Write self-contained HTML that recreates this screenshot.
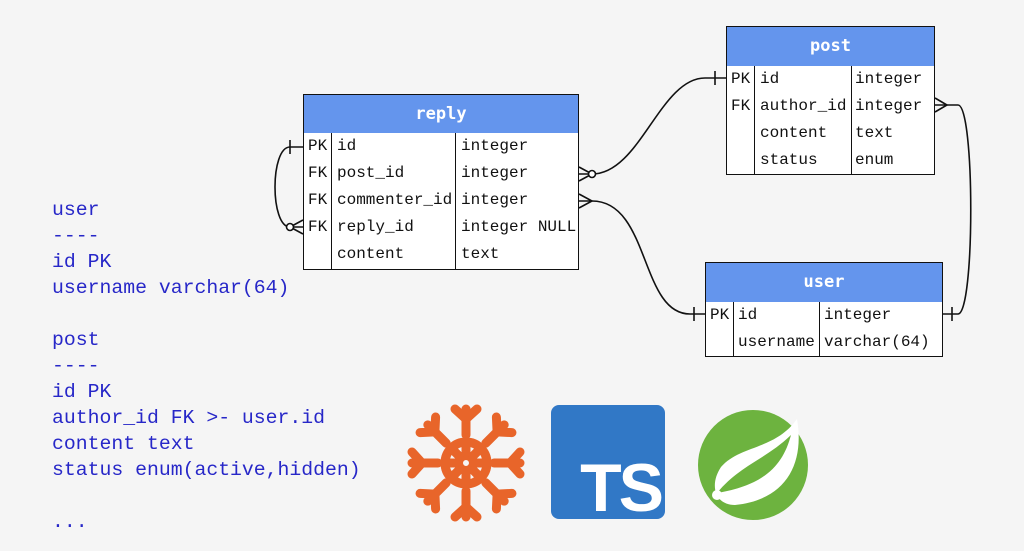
<!DOCTYPE html>
<html><head><meta charset="utf-8"><style>
body{margin:0;width:1024px;height:551px;background:#f5f5f5;position:relative;overflow:hidden;font-family:"Liberation Mono",monospace}
.t{position:absolute;border:1.5px solid #111;background:#fff;box-sizing:border-box}
.h{background:#6495ed;color:#fff;font-family:"DejaVu Sans Mono",monospace;font-weight:bold;font-size:17px;text-align:center}
.r{position:relative;height:27px;font-size:16px;line-height:27px;color:#111}
.r span{position:absolute;top:0}
.v{position:absolute;top:0;bottom:0;border-left:1.5px solid #111}
.code{position:absolute;left:52px;top:197px;color:#2727c8;font-size:19.8px;line-height:26px;white-space:pre}
</style></head><body>
<div class="code">user
----
id PK
username varchar(64)

post
----
id PK
author_id FK &gt;- user.id
content text
status enum(active,hidden)

...</div>

<!-- reply -->
<div class="t" style="left:303px;top:94px;width:276px;height:176px">
<div class="h" style="height:38px;line-height:38px">reply</div>
<div class="v" style="left:27px;top:38px"></div><div class="v" style="left:151px;top:38px"></div>
<div class="r"><span style="left:4px">PK</span><span style="left:33px">id</span><span style="left:157px">integer</span></div>
<div class="r"><span style="left:4px">FK</span><span style="left:33px">post_id</span><span style="left:157px">integer</span></div>
<div class="r"><span style="left:4px">FK</span><span style="left:33px">commenter_id</span><span style="left:157px">integer</span></div>
<div class="r"><span style="left:4px">FK</span><span style="left:33px">reply_id</span><span style="left:157px">integer NULL</span></div>
<div class="r"><span style="left:33px">content</span><span style="left:157px">text</span></div>
</div>

<!-- post -->
<div class="t" style="left:726px;top:26px;width:209px;height:149px">
<div class="h" style="height:39px;line-height:39px">post</div>
<div class="v" style="left:27px;top:39px"></div><div class="v" style="left:124px;top:39px"></div>
<div class="r"><span style="left:4px">PK</span><span style="left:33px">id</span><span style="left:128px">integer</span></div>
<div class="r"><span style="left:4px">FK</span><span style="left:33px">author_id</span><span style="left:128px">integer</span></div>
<div class="r"><span style="left:33px">content</span><span style="left:128px">text</span></div>
<div class="r"><span style="left:33px">status</span><span style="left:128px">enum</span></div>
</div>

<!-- user -->
<div class="t" style="left:705px;top:262px;width:238px;height:95px">
<div class="h" style="height:39px;line-height:39px">user</div>
<div class="v" style="left:27px;top:39px"></div><div class="v" style="left:113px;top:39px"></div>
<div class="r"><span style="left:4px">PK</span><span style="left:32px">id</span><span style="left:118px">integer</span></div>
<div class="r"><span style="left:32px">username</span><span style="left:118px">varchar(64)</span></div>
</div>

<svg width="1024" height="551" style="position:absolute;left:0;top:0" fill="none" stroke="#111" stroke-width="1.6">
<path d="M303 147 H290 C270 147 270 227 290 227 H303"/>
<path d="M290 140 V154"/>
<path d="M303 220 L290 227 L303 234"/><circle cx="290" cy="227" r="3.5" fill="#fff"/>
<path d="M579 174 H592 C640 174 660 78 705 78 H726"/>
<path d="M579 167 L592 174 L579 181"/><circle cx="592" cy="174" r="3.5" fill="#fff"/>
<path d="M715 71 V85"/>
<path d="M579 201 H592 C650 201 640 314 690 314 H705"/>
<path d="M579 194 L592 201 L579 208"/>
<path d="M694 307 V321"/>
<path d="M935 105 H958 C975 105 975 314 958 314 H943"/>
<path d="M935 98 L947 105 L935 112"/>
<path d="M952 307 V321"/>
</svg>

<!-- snowflake -->
<svg width="120" height="120" style="position:absolute;left:406px;top:403px" viewBox="-60 -60 120 120">
<g stroke="#e8652a" stroke-width="9" stroke-linecap="round" fill="none">
<circle r="21"/><circle r="6" stroke-width="6"/>
<g id="arm"><path d="M0 -28 V-54 M0 -44 L-11 -54 M0 -44 L11 -54 M0 -10 V-20"/></g>
<use href="#arm" transform="rotate(45)"/><use href="#arm" transform="rotate(90)"/><use href="#arm" transform="rotate(135)"/>
<use href="#arm" transform="rotate(180)"/><use href="#arm" transform="rotate(225)"/><use href="#arm" transform="rotate(270)"/><use href="#arm" transform="rotate(315)"/>
</g></svg>

<!-- TS -->
<div style="position:absolute;left:551px;top:405px;width:114px;height:114px;background:#3178c6;border-radius:8px">
<div style="position:absolute;right:4px;bottom:-8px;color:#fff;font-family:'Liberation Sans',sans-serif;font-weight:bold;font-size:68px;letter-spacing:-3px">TS</div>
</div>

<!-- spring -->
<svg width="120" height="120" style="position:absolute;left:695px;top:405px" viewBox="0 0 120 120">
<circle cx="58" cy="60" r="55" fill="#6db33f"/>
<path d="M102 14 C110 60 90 95 40 100 C20 100 14 80 26 62 C45 40 80 45 102 14 Z" fill="#fff"/>
<path d="M96 30 C88 60 70 80 22 88 C45 60 70 55 96 30 Z" fill="#6db33f"/>
<circle cx="22" cy="90" r="5" fill="#fff"/>
</svg>
</body></html>
